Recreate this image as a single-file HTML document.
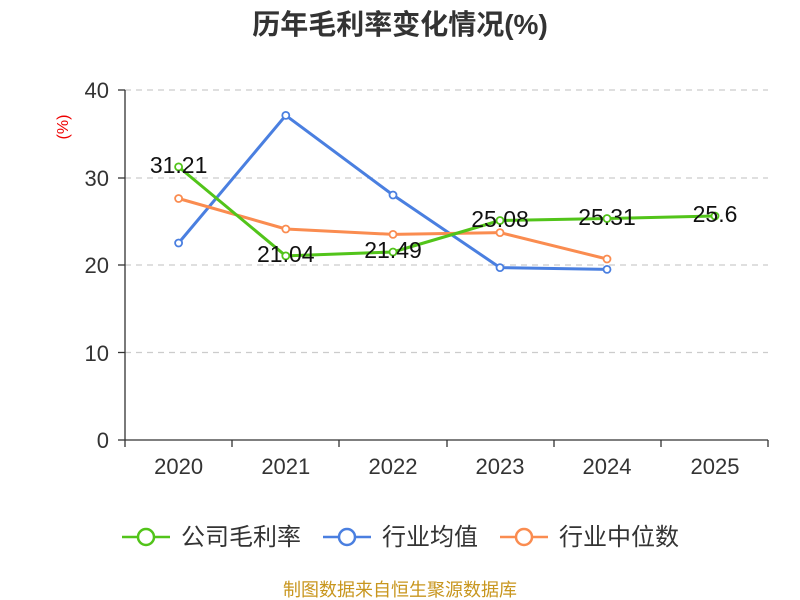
<!DOCTYPE html>
<html><head><meta charset="utf-8"><style>
html,body{margin:0;padding:0;background:#fff;}
svg{display:block;font-family:"Liberation Sans","Noto Sans CJK SC",sans-serif;}
</style></head><body>
<svg width="800" height="600" viewBox="0 0 800 600" xmlns="http://www.w3.org/2000/svg">
<text x="400" y="34" text-anchor="middle" font-size="28" font-weight="bold" fill="#333">历年毛利率变化情况(%)</text>
<text x="68" y="127" font-size="16" fill="#e00" text-anchor="middle" transform="rotate(-90 68 127)">(%)</text>
<g stroke="#ccc" stroke-dasharray="6,5" stroke-width="1.3">
<line x1="125" y1="90" x2="768" y2="90"/><line x1="125" y1="178" x2="768" y2="178"/>
<line x1="125" y1="265" x2="768" y2="265"/><line x1="125" y1="352.5" x2="768" y2="352.5"/>
</g>
<g stroke="#333" stroke-width="1.3">
<line x1="125" y1="90" x2="125" y2="440"/><line x1="125" y1="440" x2="768" y2="440"/>
<line x1="118" y1="90" x2="125" y2="90"/><line x1="118" y1="178" x2="125" y2="178"/><line x1="118" y1="265" x2="125" y2="265"/><line x1="118" y1="352.5" x2="125" y2="352.5"/><line x1="118" y1="440" x2="125" y2="440"/>
<line x1="125" y1="440" x2="125" y2="447"/><line x1="232" y1="440" x2="232" y2="447"/><line x1="339" y1="440" x2="339" y2="447"/><line x1="447" y1="440" x2="447" y2="447"/><line x1="554" y1="440" x2="554" y2="447"/><line x1="661" y1="440" x2="661" y2="447"/><line x1="768" y1="440" x2="768" y2="447"/>
</g>
<g font-size="22" fill="#333" text-anchor="end">
<text x="109" y="98">40</text><text x="109" y="186">30</text><text x="109" y="273">20</text><text x="109" y="361">10</text><text x="109" y="448">0</text>
</g>
<g font-size="22" fill="#333" text-anchor="middle">
<text x="178.6" y="474">2020</text><text x="285.8" y="474">2021</text><text x="393" y="474">2022</text><text x="500" y="474">2023</text><text x="607" y="474">2024</text><text x="715" y="474">2025</text>
</g>
<g fill="none" stroke-width="3" stroke-linejoin="round">
<polyline stroke="#4a7fe0" points="178.6,243 285.8,115.4 393,195 500,267.6 607,269.4"/>
<polyline stroke="#fa8c50" points="178.6,198.5 285.8,229 393,234.4 500,232.6 607,259"/>
<polyline stroke="#52c41a" points="178.6,166.9 285.8,255.9 393,252 500,220.5 607,218.5 715,216"/>
</g>
<g fill="#fff" stroke-width="1.8">
<g stroke="#4a7fe0"><circle cx="178.6" cy="243" r="3.5"/><circle cx="285.8" cy="115.4" r="3.5"/><circle cx="393" cy="195" r="3.5"/><circle cx="500" cy="267.6" r="3.5"/><circle cx="607" cy="269.4" r="3.5"/></g>
<g stroke="#fa8c50"><circle cx="178.6" cy="198.5" r="3.5"/><circle cx="285.8" cy="229" r="3.5"/><circle cx="393" cy="234.4" r="3.5"/><circle cx="500" cy="232.6" r="3.5"/><circle cx="607" cy="259" r="3.5"/></g>
<g stroke="#52c41a"><circle cx="178.6" cy="166.9" r="3.5"/><circle cx="285.8" cy="255.9" r="3.5"/><circle cx="393" cy="252" r="3.5"/><circle cx="500" cy="220.5" r="3.5"/><circle cx="607" cy="218.5" r="3.5"/><circle cx="715" cy="216" r="3.5"/></g>
</g>
<g font-size="23" fill="#111" text-anchor="middle">
<text x="178.6" y="173">31.21</text><text x="285.8" y="262">21.04</text><text x="393" y="258">21.49</text><text x="500" y="227">25.08</text><text x="607" y="225">25.31</text><text x="715" y="222">25.6</text>
</g>
<g stroke-width="2.5" fill="#fff">
<line x1="122" y1="537" x2="170" y2="537" stroke="#52c41a"/><circle cx="146" cy="537" r="8" stroke="#52c41a"/>
<line x1="323" y1="537" x2="371" y2="537" stroke="#4a7fe0"/><circle cx="347" cy="537" r="8" stroke="#4a7fe0"/>
<line x1="500" y1="537" x2="548" y2="537" stroke="#fa8c50"/><circle cx="524" cy="537" r="8" stroke="#fa8c50"/>
</g>
<g font-size="24" fill="#333">
<text x="181" y="545">公司毛利率</text><text x="382" y="545">行业均值</text><text x="559" y="545">行业中位数</text>
</g>
<text x="400" y="596" font-size="18" fill="#c8961e" text-anchor="middle">制图数据来自恒生聚源数据库</text>
</svg>
</body></html>
